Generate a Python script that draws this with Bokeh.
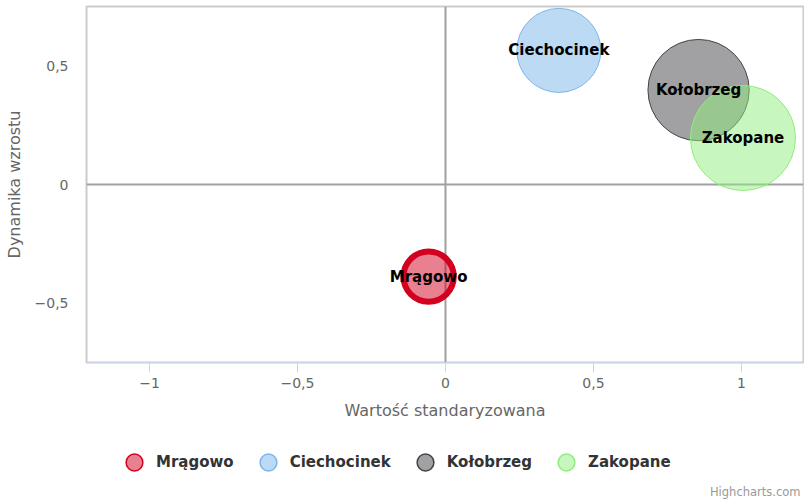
import math
from bokeh.plotting import figure
from bokeh.layouts import column
from bokeh.models import (Range1d, FixedTicker, CustomJSTickFormatter, Span, Legend,
                          LegendItem, Label, ColumnDataSource)
from bokeh.core.properties import value
from bokeh.embed import file_html
from bokeh.resources import INLINE

# ---- data ----
cities = ["Mrągowo", "Ciechocinek", "Kołobrzeg", "Zakopane"]
std_value = [-0.057, 0.383, 0.855, 1.005]      # Wartość standaryzowana
growth = [-0.39, 0.568, 0.40, 0.197]           # Dynamika wzrostu
bubble_z = [23, 64, 93, 100]                   # bubble size value
colors = ["#d3011f", "#7cb5ec", "#434348", "#90ed7d"]
x_ticks = [-1, -0.5, 0, 0.5, 1]
y_ticks = [-0.5, 0, 0.5]
x_title = "Wartość standaryzowana"
y_title = "Dynamika wzrostu"
credit_text = "Highcharts.com"

FONT = "DejaVu Sans"
MAX_D = 105
W = 804

p = figure(width=W, height=430,
           x_range=Range1d(-1.2128, 1.2095), y_range=Range1d(-0.754, 0.754),
           output_backend="svg", toolbar_location=None,
           min_border_left=86, min_border_right=1, min_border_top=6,
           min_border_bottom=68)
p.background_fill_color = "#ffffff"
p.border_fill_color = "#ffffff"
p.outline_line_color = "#cccccc"
p.outline_line_width = 2
p.xgrid.visible = False
p.ygrid.visible = False

fmt_code = """
const s = Math.abs(tick).toString().replace('.', ',');
return tick < 0 ? '\\u2212' + s : s;
"""

xa = p.xaxis[0]
xa.ticker = FixedTicker(ticks=x_ticks)
xa.formatter = CustomJSTickFormatter(code=fmt_code)
xa.axis_line_color = "#ccd6eb"
xa.major_tick_line_color = "#ccd6eb"
xa.major_tick_in = 0
xa.major_tick_out = 10
xa.minor_tick_line_color = None
xa.major_label_standoff = 5
xa.major_label_text_font = FONT
xa.major_label_text_font_size = "14px"
xa.major_label_text_color = "#666666"
xa.axis_label = x_title
xa.axis_label_text_font = FONT
xa.axis_label_text_font_size = "16px"
xa.axis_label_text_font_style = "normal"
xa.axis_label_text_color = "#666666"
xa.axis_label_standoff = 10

ya = p.yaxis[0]
ya.ticker = FixedTicker(ticks=y_ticks)
ya.formatter = CustomJSTickFormatter(code=fmt_code)
ya.axis_line_color = None
ya.major_tick_line_color = None
ya.major_tick_in = 0
ya.major_tick_out = 0
ya.minor_tick_line_color = None
ya.major_label_standoff = 18
ya.major_label_text_font = FONT
ya.major_label_text_font_size = "14px"
ya.major_label_text_color = "#666666"
ya.axis_label = y_title
ya.axis_label_text_font = FONT
ya.axis_label_text_font_size = "16px"
ya.axis_label_text_font_style = "normal"
ya.axis_label_text_color = "#666666"
ya.axis_label_standoff = 8

# plot lines at zero
p.add_layout(Span(location=0, dimension="height", line_color="#a0a0a0",
                  line_width=2, level="underlay"))
p.add_layout(Span(location=0, dimension="width", line_color="#a0a0a0",
                  line_width=2, level="underlay"))

# bubbles
zmax = max(bubble_z)
for i, name in enumerate(cities):
    src = ColumnDataSource(dict(x=[std_value[i]], y=[growth[i]],
                                s=[MAX_D * math.sqrt(bubble_z[i] / zmax)]))
    p.scatter("x", "y", size="s", source=src, marker="circle",
              fill_color=colors[i], fill_alpha=0.5, line_color=colors[i],
              line_width=6 if i == 0 else 1)

# data labels
p.text(x=std_value, y=growth, text=cities, text_align="center",
       text_baseline="middle", text_font=value(FONT), text_font_style="bold",
       text_font_size="15px", text_color="#000000")

# ---- legend strip below (frame is aligned with the main plot's frame) ----
p2 = figure(width=W, height=70, x_range=Range1d(10, 11), y_range=Range1d(10, 11),
            x_axis_type=None, y_axis_type=None,
            output_backend="svg", toolbar_location=None,
            min_border_left=86, min_border_right=1, min_border_top=0,
            min_border_bottom=0)
p2.outline_line_color = None
p2.xgrid.visible = False
p2.ygrid.visible = False
p2.background_fill_color = "#ffffff"
p2.border_fill_color = "#ffffff"

items = []
for i, name in enumerate(cities):
    # legend proxies: the data lie outside this strip's ranges, so only the legend shows them
    r = p2.scatter(x=[std_value[i]], y=[growth[i]], marker="circle", size=16,
                   fill_color=colors[i], fill_alpha=0.5, line_color=colors[i],
                   line_width=1.5)
    items.append(LegendItem(label=name, renderers=[r]))
legend = Legend(items=items, orientation="horizontal", location=(27, 17),
                glyph_width=42, glyph_height=42, label_standoff=1, spacing=13,
                padding=0, margin=0, border_line_color=None,
                background_fill_alpha=0, label_text_font=FONT,
                label_text_font_style="bold", label_text_font_size="15px",
                label_text_color="#333333")
p2.add_layout(legend, "center")

credit = Label(x=714, y=9, x_units="screen", y_units="screen",
               text=credit_text, text_align="right", text_baseline="middle",
               text_font=FONT, text_font_size="11.5px", text_color="#999999")
p2.add_layout(credit)

layout = column(p, p2, spacing=0)
open("out.html", "w").write(file_html(layout, INLINE))
